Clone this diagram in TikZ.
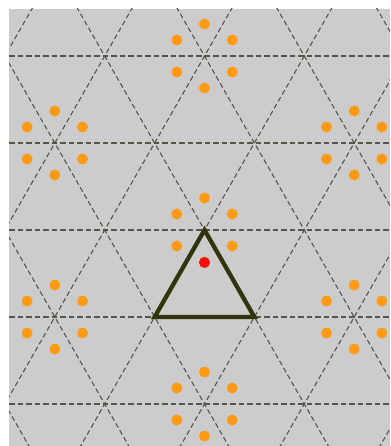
\documentclass[tikz,border=0pt]{standalone}
\usepackage{tikz}
\definecolor{panel}{HTML}{CCCCCC}
\definecolor{gridline}{HTML}{55554A}
\definecolor{edge}{HTML}{33330C}
\definecolor{site}{HTML}{FF9A14}
\definecolor{hotsite}{HTML}{F01010}
\tikzset{hline/.style={gridline,line width=1.7pt,dash pattern=on 5.5pt off 3pt},
dline/.style={gridline,line width=1.1pt,dash pattern=on 5pt off 3pt}}
\begin{document}
\begin{tikzpicture}[x=1pt,y=-1pt]
\useasboundingbox(0,0)rectangle(390,446);
\fill[panel](9,9)rectangle(390,446);
\begin{scope}
\clip(9,9)rectangle(390,446);
%lattice lines
\foreach \j in {-2,...,2}
\draw[hline](9,230+87*\j)--(390,230+87*\j);
\foreach \i in {-6,...,6}{
\draw[dline](204.5+99.8*\i-199.6,-118)--++(399.2,696);
\draw[dline](204.5+99.8*\i+199.6,-118)--++(-399.2,696);}
%sites around the vertices
\foreach \u/\v in {204.5/56,54.8/143,354.2/143,204.5/230,54.8/317,354.2/317,204.5/404}
\foreach \a in {30,90,...,330}
\fill[site,shift={(\u,\v)}](\a:32)circle(5.5);
\end{scope}
%unit cell
\coordinate(top)at(204.5,230);
\coordinate(bl)at(154.6,317);
\coordinate(br)at(254.4,317);
\draw[edge,line width=4.3pt](top)--(bl)--(br)--cycle;
\fill[hotsite](204.5,262.5)circle(5.5);
\end{tikzpicture}
\end{document}
